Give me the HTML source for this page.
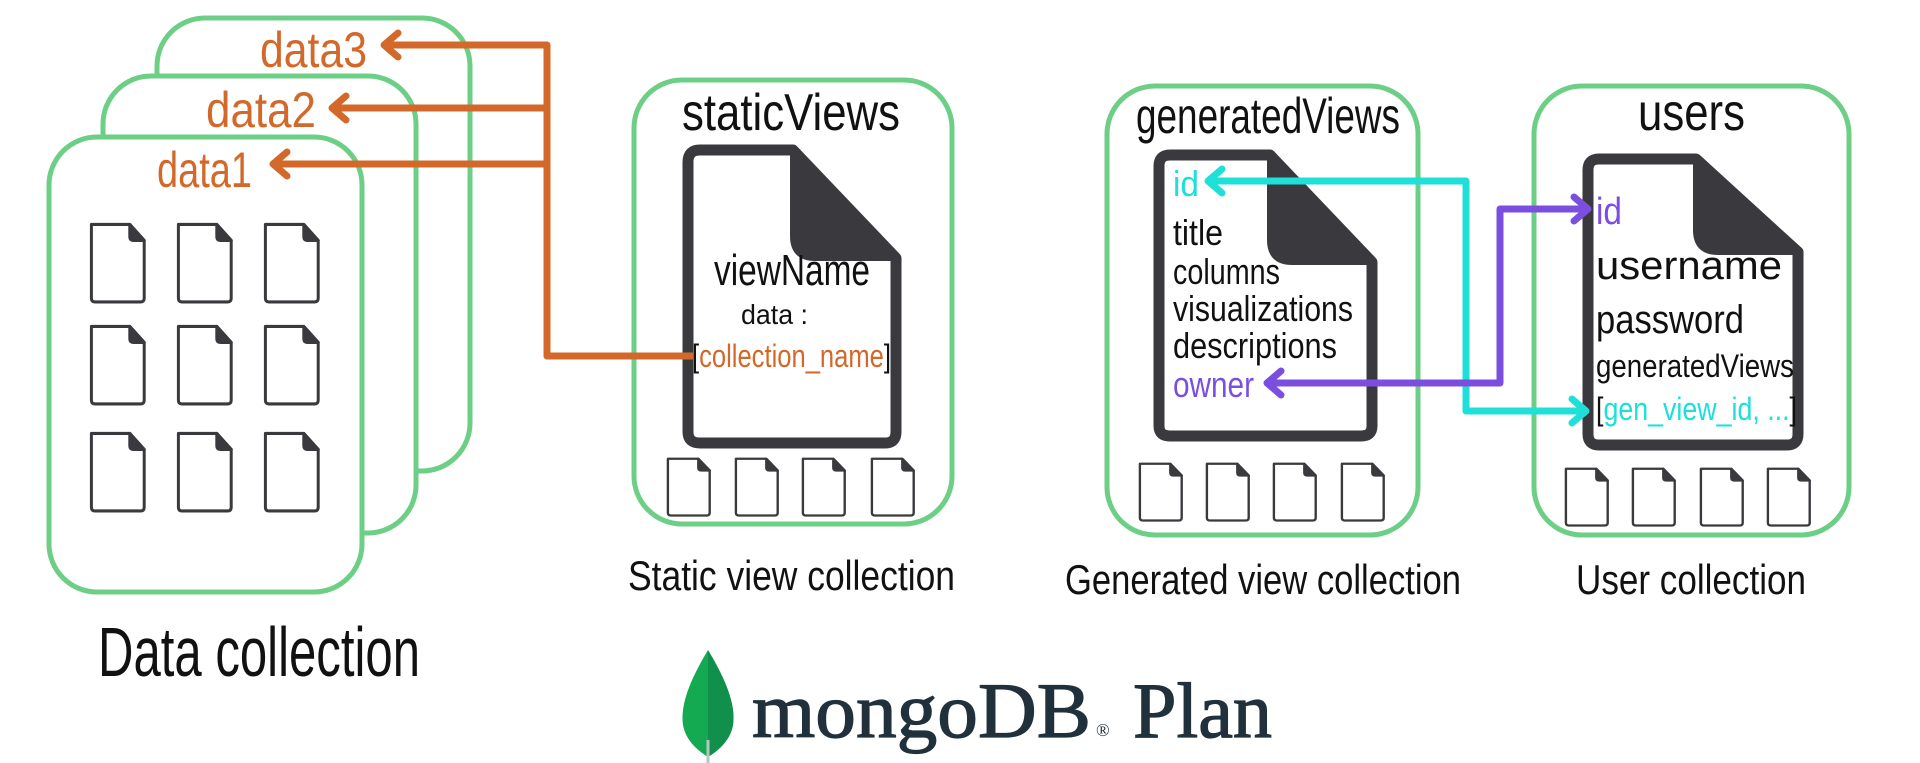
<!DOCTYPE html>
<html><head><meta charset="utf-8"><style>
html,body{margin:0;padding:0;background:#fff;width:1920px;height:763px;overflow:hidden}
svg{display:block}
text{font-family:"Liberation Sans Narrow","Liberation Sans",sans-serif}
</style></head><body>
<svg width="1920" height="763" viewBox="0 0 1920 763" xmlns="http://www.w3.org/2000/svg">
<defs>
<g id="sd">
<path d="M2,2 H34 L46,15 V62 Q46,65 43,65 H5 Q2,65 2,62 Z" fill="#fff" stroke="#3a3a3e" stroke-width="2.5" stroke-linejoin="round"/>
<path d="M34,2 L46,15 H37 Q34,15 34,12 Z" fill="#3a3a3e" stroke="#3a3a3e" stroke-width="2.5" stroke-linejoin="round"/>
</g>
</defs>
<g fill="#fff" stroke="#6ccf85" stroke-width="5">
<rect x="157" y="18" width="313" height="453" rx="48"/>
<rect x="103" y="76" width="313" height="457" rx="48"/>
<rect x="49" y="137" width="313" height="455" rx="48"/>
<rect x="634" y="80" width="318" height="444" rx="48"/>
<rect x="1107" y="86" width="311" height="449" rx="48"/>
<rect x="1534" y="86" width="315" height="449" rx="48"/>
</g>
<use href="#sd" transform="translate(89,222) scale(1.2,1.23)"/>
<use href="#sd" transform="translate(176,222) scale(1.2,1.23)"/>
<use href="#sd" transform="translate(263,222) scale(1.2,1.23)"/>
<use href="#sd" transform="translate(89,324) scale(1.2,1.23)"/>
<use href="#sd" transform="translate(176,324) scale(1.2,1.23)"/>
<use href="#sd" transform="translate(263,324) scale(1.2,1.23)"/>
<use href="#sd" transform="translate(89,431) scale(1.2,1.23)"/>
<use href="#sd" transform="translate(176,431) scale(1.2,1.23)"/>
<use href="#sd" transform="translate(263,431) scale(1.2,1.23)"/>
<use href="#sd" transform="translate(666,457) scale(0.95,0.9)"/>
<use href="#sd" transform="translate(734,457) scale(0.95,0.9)"/>
<use href="#sd" transform="translate(801,457) scale(0.95,0.9)"/>
<use href="#sd" transform="translate(870,457) scale(0.95,0.9)"/>
<use href="#sd" transform="translate(1138,462) scale(0.95,0.9)"/>
<use href="#sd" transform="translate(1205,462) scale(0.95,0.9)"/>
<use href="#sd" transform="translate(1272,462) scale(0.95,0.9)"/>
<use href="#sd" transform="translate(1340,462) scale(0.95,0.9)"/>
<use href="#sd" transform="translate(1564,467) scale(0.95,0.9)"/>
<use href="#sd" transform="translate(1631,467) scale(0.95,0.9)"/>
<use href="#sd" transform="translate(1699,467) scale(0.95,0.9)"/>
<use href="#sd" transform="translate(1766,467) scale(0.95,0.9)"/>
<g stroke="#3a3a3e" stroke-width="11" stroke-linejoin="round" fill="#fff">
<path d="M700,150 H793 L896,258 V432 Q896,443 885,443 H700 Q688,443 688,432 V162 Q688,150 700,150 Z"/>
<path d="M1170,155 H1270 L1372,262 V426 Q1372,436 1361,436 H1170 Q1159,436 1159,426 V166 Q1159,155 1170,155 Z"/>
<path d="M1599,159 H1696 L1798,252 V434 Q1798,445 1787,445 H1599 Q1588,445 1588,434 V170 Q1588,159 1599,159 Z"/>
</g>
<g fill="#3a3a3e" stroke="#3a3a3e" stroke-width="6" stroke-linejoin="round">
<path d="M793,150 L896,258 H815 Q793,258 793,236 Z"/>
<path d="M1270,155 L1372,262 H1292 Q1270,262 1270,240 Z"/>
<path d="M1696,159 L1798,252 H1718 Q1696,252 1696,230 Z"/>
</g>
<g fill="none" stroke="#d2692a" stroke-width="7" stroke-linecap="round" stroke-linejoin="round">
<path d="M692,356 H547 V45 H386"/>
<path d="M547,108 H334"/>
<path d="M547,164 H275"/>
<path d="M398,33 L384,45 L398,57"/>
<path d="M346,96 L332,108 L346,120"/>
<path d="M287,152 L273,164 L287,176"/>
</g>
<g fill="none" stroke="#1ee0d8" stroke-width="7" stroke-linecap="round" stroke-linejoin="round">
<path d="M1210,181 H1466 V411 H1584"/>
<path d="M1222,169 L1208,181 L1222,193"/>
<path d="M1572,399 L1586,411 L1572,423"/>
</g>
<g fill="none" stroke="#7a4fe0" stroke-width="7" stroke-linecap="round" stroke-linejoin="round">
<path d="M1269,383 H1500 V209 H1586"/>
<path d="M1281,371 L1267,383 L1281,395"/>
<path d="M1574,197 L1588,209 L1574,221"/>
</g>
<g fill="#d2692a" font-size="50">
<text x="260" y="67" textLength="107" lengthAdjust="spacingAndGlyphs">data3</text>
<text x="206" y="127" textLength="110" lengthAdjust="spacingAndGlyphs">data2</text>
<text x="157" y="187" textLength="95" lengthAdjust="spacingAndGlyphs">data1</text>
</g>
<g fill="#111">
<text x="98" y="676" font-size="70" textLength="322" lengthAdjust="spacingAndGlyphs">Data collection</text>
<text x="682" y="130" font-size="52" textLength="218" lengthAdjust="spacingAndGlyphs">staticViews</text>
<text x="714" y="285" font-size="44" textLength="156" lengthAdjust="spacingAndGlyphs">viewName</text>
<text x="741" y="324" font-size="28" textLength="67" lengthAdjust="spacingAndGlyphs">data :</text>
<text x="692" y="367" font-size="32" textLength="199" lengthAdjust="spacingAndGlyphs">[<tspan fill="#d2692a">collection_name</tspan>]</text>
<text x="628" y="590" font-size="42" textLength="327" lengthAdjust="spacingAndGlyphs">Static view collection</text>
<text x="1136" y="133" font-size="50" textLength="264" lengthAdjust="spacingAndGlyphs">generatedViews</text>
<text x="1173" y="196" font-size="36" fill="#1ee0d8" textLength="26" lengthAdjust="spacingAndGlyphs">id</text>
<text x="1173" y="245" font-size="36" textLength="50" lengthAdjust="spacingAndGlyphs">title</text>
<text x="1173" y="284" font-size="36" textLength="107" lengthAdjust="spacingAndGlyphs">columns</text>
<text x="1173" y="321" font-size="36" textLength="180" lengthAdjust="spacingAndGlyphs">visualizations</text>
<text x="1173" y="358" font-size="36" textLength="164" lengthAdjust="spacingAndGlyphs">descriptions</text>
<text x="1173" y="397" font-size="36" fill="#7a4fe0" textLength="81" lengthAdjust="spacingAndGlyphs">owner</text>
<text x="1638" y="130" font-size="52" textLength="107" lengthAdjust="spacingAndGlyphs">users</text>
<text x="1596" y="224" font-size="38" fill="#7a4fe0" textLength="26" lengthAdjust="spacingAndGlyphs">id</text>
<text x="1596" y="279" font-size="40" textLength="186" lengthAdjust="spacingAndGlyphs">username</text>
<text x="1596" y="333" font-size="40" textLength="148" lengthAdjust="spacingAndGlyphs">password</text>
<text x="1596" y="377" font-size="32" textLength="198" lengthAdjust="spacingAndGlyphs">generatedViews</text>
<text x="1596" y="420" font-size="32" textLength="201" lengthAdjust="spacingAndGlyphs">[<tspan fill="#1ee0d8">gen_view_id, ...</tspan>]</text>
<text x="1065" y="594" font-size="42" textLength="396" lengthAdjust="spacingAndGlyphs">Generated view collection</text>
<text x="1576" y="594" font-size="42" textLength="230" lengthAdjust="spacingAndGlyphs">User collection</text>
</g>
<path d="M708,650 C690,680 680,705 683,725 C686,742 700,752 708,757 C716,752 730,742 733,725 C736,705 726,680 708,650 Z" fill="#13aa52"/>
<path d="M708,650 C726,680 736,705 733,725 C730,742 716,752 708,757 Z" fill="#10904a"/>
<path d="M708,740 V763" stroke="#b8c4c2" stroke-width="3"/>
<g fill="#21313c" stroke="#21313c" stroke-width="1.2">
<text x="752" y="737" font-size="78" textLength="339" lengthAdjust="spacingAndGlyphs" style="font-family:'Liberation Serif',serif">mongoDB</text>
<text x="1096" y="736" font-size="18" stroke-width="0" style="font-family:'Liberation Serif',serif">®</text>
<text x="1133" y="737" font-size="78" textLength="139" lengthAdjust="spacingAndGlyphs" style="font-family:'Liberation Serif',serif">Plan</text>
</g>
</svg>
</body></html>
